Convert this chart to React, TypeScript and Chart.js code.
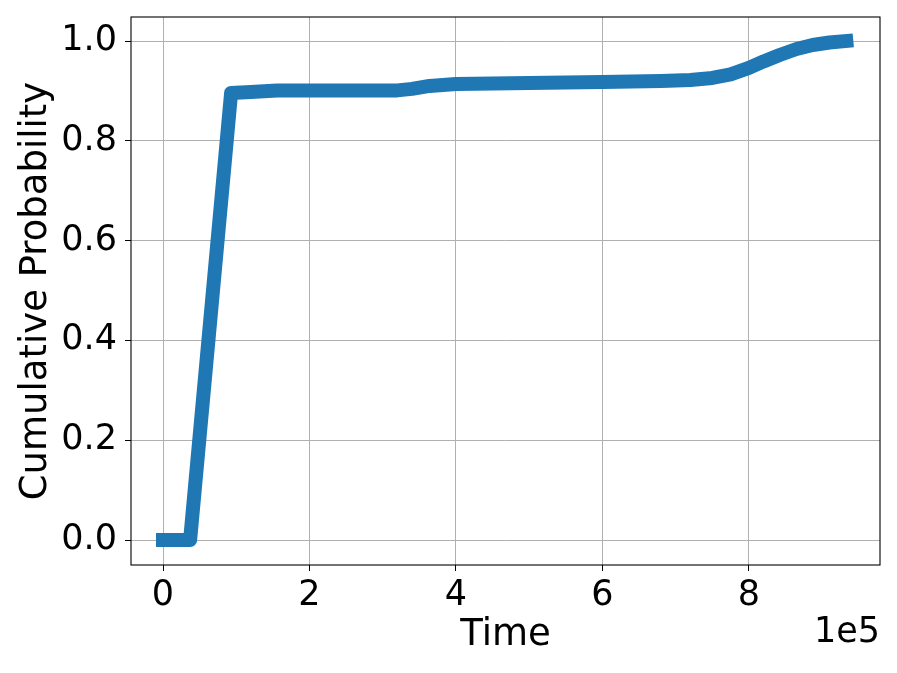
import React, { useEffect, useRef } from "react";
import { Chart, registerables } from "chart.js";

Chart.register(...registerables);

const timeValues = [0, 37000, 93000, 120000, 156000, 250000, 320000, 340000, 364000, 400000, 450000, 500000, 600000, 680000, 720000, 750000, 775000, 800000, 820000, 842000, 865000, 887000, 910000, 933000];
const probValues = [0, 0, 0.896, 0.898, 0.901, 0.901, 0.901, 0.904, 0.91, 0.914, 0.915, 0.916, 0.918, 0.92, 0.922, 0.926, 0.933, 0.946, 0.959, 0.972, 0.984, 0.992, 0.997, 1.0];
const xTickValues = [0, 200000, 400000, 600000, 800000];
const xTickLabels = ["0", "2", "4", "6", "8"];
const yTickValues = [0, 0.2, 0.4, 0.6, 0.8, 1.0];
const yTickLabels = ["0.0", "0.2", "0.4", "0.6", "0.8", "1.0"];
const xTitle = "Time";
const yTitle = "Cumulative Probability";
const offsetText = "1e5";

const FONT = "'DejaVu Sans', sans-serif";

export default function App() {
  const ref = useRef<HTMLCanvasElement | null>(null);
  useEffect(() => {
    if (!ref.current) return;
    const framePlugin = {
      id: "frame",
      afterDatasetsDraw(chart: any) {
        const { ctx, chartArea } = chart;
        ctx.save();
        ctx.strokeStyle = "#000";
        ctx.lineWidth = 1.1;
        ctx.strokeRect(chartArea.left, chartArea.top, chartArea.right - chartArea.left, chartArea.bottom - chartArea.top);
        ctx.restore();
      },
      afterDraw(chart: any) {
        const { ctx } = chart;
        ctx.save();
        ctx.font = `35px ${FONT}`;
        ctx.fillStyle = "#000";
        ctx.textAlign = "right";
        ctx.textBaseline = "alphabetic";
        ctx.fillText(offsetText, 880, 642);
        ctx.restore();
      },
    };
    const chart = new Chart(ref.current, {
      type: "line",
      data: {
        datasets: [
          {
            data: timeValues.map((t, i) => ({ x: t, y: probValues[i] })),
            borderColor: "#1f77b4",
            borderWidth: 14,
            borderCapStyle: "square",
            borderJoinStyle: "round",
            pointRadius: 0,
            tension: 0,
            fill: false,
          },
        ],
      },
      options: {
        animation: false,
        responsive: false,
        devicePixelRatio: 1,
        layout: { padding: { top: 17, right: 17, left: 0, bottom: 0 } },
        plugins: { legend: { display: false }, tooltip: { enabled: false } },
        scales: {
          x: {
            type: "linear",
            min: -43700,
            max: 979000,
            afterBuildTicks: (s: any) => {
              s.ticks = xTickValues.map((v) => ({ value: v }));
            },
            afterFit: (s: any) => {
              s.height = 108;
              s.paddingLeft = 0;
              s.paddingRight = 0;
            },
            ticks: {
              font: { family: FONT, size: 35 },
              color: "#000",
              padding: 4,
              maxRotation: 0,
              autoSkip: false,
              callback: (v: any) => {
                const i = xTickValues.indexOf(Number(v));
                return i >= 0 ? xTickLabels[i] : "";
              },
            },
            grid: { color: "#b0b0b0", lineWidth: 1, tickColor: "#000", tickLength: 6, drawTicks: true },
            border: { display: false },
            title: {
              display: true,
              text: xTitle,
              font: { family: FONT, size: 37 },
              color: "#000",
              padding: { top: 0, bottom: 15 },
            },
          },
          y: {
            type: "linear",
            min: -0.0501,
            max: 1.0481,
            afterBuildTicks: (s: any) => {
              s.ticks = yTickValues.map((v) => ({ value: v }));
            },
            afterFit: (s: any) => {
              s.width = 131;
              s.paddingTop = 0;
              s.paddingBottom = 0;
            },
            ticks: {
              font: { family: FONT, size: 35 },
              color: "#000",
              padding: 8,
              autoSkip: false,
              callback: (v: any) => {
                const i = yTickValues.findIndex((t) => Math.abs(t - Number(v)) < 1e-9);
                return i >= 0 ? yTickLabels[i] : "";
              },
            },
            grid: { color: "#b0b0b0", lineWidth: 1, tickColor: "#000", tickLength: 6, drawTicks: true },
            border: { display: false },
            title: {
              display: true,
              text: yTitle,
              font: { family: FONT, size: 37 },
              color: "#000",
              padding: { top: 14, bottom: 0 },
            },
          },
        },
      },
      plugins: [framePlugin],
    } as any);
    return () => chart.destroy();
  }, []);
  return (
    <div style={{ position: "fixed", left: 0, top: 0, width: 897, height: 673, background: "#fff" }}>
      <canvas ref={ref} width={897} height={673} style={{ display: "block" }} />
    </div>
  );
}
